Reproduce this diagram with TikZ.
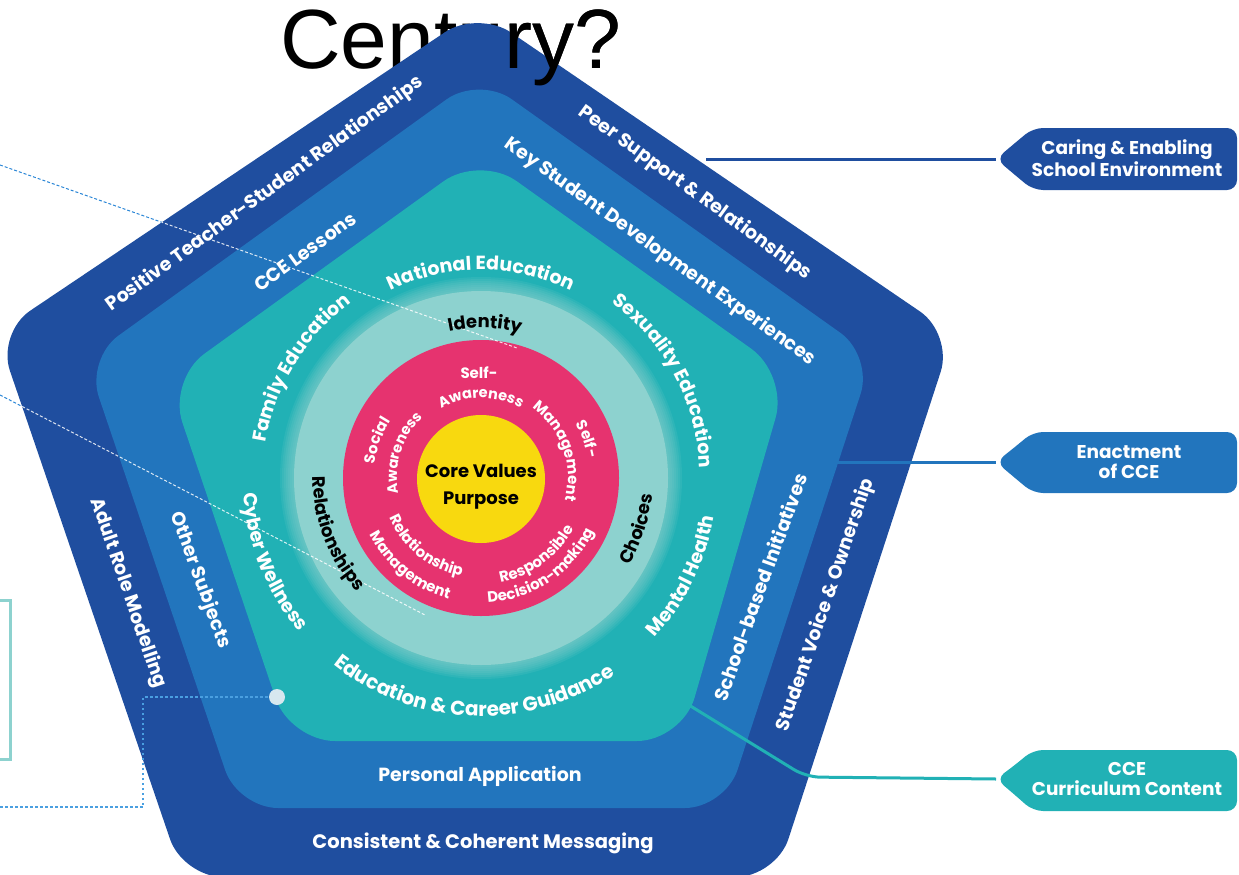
\documentclass[tikz,border=0pt]{standalone}
\usepackage{fontspec}
\setmainfont{Poppins}
\newfontfamily\titlefont{Liberation Sans}
\usetikzlibrary{decorations.text}
\definecolor{dblue}{HTML}{1F4E9F}
\definecolor{mblue}{HTML}{2275BD}
\definecolor{teal}{HTML}{21B1B5}
\definecolor{lteal}{HTML}{8DD2CF}
\definecolor{pinkc}{HTML}{E6336F}
\definecolor{yellowc}{HTML}{F8D90F}
\definecolor{dashblue}{HTML}{2A86D6}
\definecolor{dotblue}{HTML}{4A9FE0}
\definecolor{dotc}{HTML}{D7E7EF}
\newcommand\fs[1]{\fontsize{#1}{#1}\selectfont}
\newcommand\cwtext[5]{\path[decorate,decoration={text along path,text align=center,text={|\color{#1}\bfseries\fs{#2}|#5}}] (481,-478) ++({#4+80}:#3) arc[start angle={#4+80}, end angle={#4-80}, radius=#3];}
\newcommand\ccwtext[5]{\path[decorate,decoration={text along path,text align=center,text={|\color{#1}\bfseries\fs{#2}|#5}}] (481,-478) ++({#4-80}:#3) arc[start angle={#4-80}, end angle={#4+80}, radius=#3];}
\def\outerpath{(480,-877) -- (183,-877) -- (-3,-333) -- (478,-10) -- (953,-334) -- (776,-877) -- cycle}
\def\midpath{(480,-808) -- (238,-808) -- (86,-359) -- (479,-76) -- (873,-356) -- (725,-808) -- cycle}
\def\tealpath{(486,-741) -- (290,-741) -- (168,-380) -- (480,-155) -- (788,-375) -- (682,-741) -- cycle}
\begin{document}
\begin{tikzpicture}[x=1pt,y=1pt,
  lbl/.style={text=white, font=\bfseries\fs{19}, inner sep=0pt},
  tagtext/.style={text=white, font=\bfseries\fs{18.5}, align=center, inner sep=0pt},
  dashline/.style={dashblue, line width=1, dash pattern=on 3pt off 2pt},
  conn/.style={line width=3},
  title/.style={font=\titlefont\fs{84}, anchor=base west, inner sep=0pt}]
\useasboundingbox (0,0) rectangle (1239,-875);
% title behind
\node[title] (title) at (280,-68) {Century?};
% left pointer lines
\coordinate (d1s) at (0,-165); \coordinate (d1e) at (517,-348);
\coordinate (d2s) at (0,-395); \coordinate (d2e) at (425,-615);
\draw[dashline] (d1s) -- (d1e);
\draw[dashline] (d2s) -- (d2e);
\draw[lteal, line width=3] (-5,-600) -- (10,-600) -- (10,-759) -- (-5,-759);
% pentagons
\fill[dblue, rounded corners=40] \outerpath;
\fill[mblue, rounded corners=40] \midpath;
\fill[teal, rounded corners=45] \tealpath;
% circles
\foreach \rr in {201,199,...,189} \fill[lteal, opacity=0.13] (481,-478) circle (\rr);
\fill[lteal] (481,-478) circle (187);
\fill[pinkc] (481,-478) circle (138);
\fill[yellowc] (481,-479) circle (64);
% title front part
\node[title] (titlefront) at (280,-68) {\phantom{Centu}ry?};
% white dashes over the pentagon
\begin{scope}
\clip[rounded corners=40] \outerpath;
\draw[white, opacity=0.85, line width=1, dash pattern=on 3pt off 2pt] (d1s) -- (d1e);
\draw[white, opacity=0.85, line width=1, dash pattern=on 3pt off 2pt] (d2s) -- (d2e);
\end{scope}
% callout tags
\fill[dblue, rounded corners=10] (1015,-143) -- (1033,-128) -- (1237,-128) -- (1237,-190) -- (1033,-190) -- (1015,-175) -- (996,-159) -- cycle;
\fill[mblue, rounded corners=10] (1015,-447) -- (1033,-432) -- (1237,-432) -- (1237,-493) -- (1033,-493) -- (1015,-478) -- (996,-462) -- cycle;
\fill[teal, rounded corners=10] (1015,-765) -- (1033,-750) -- (1237,-750) -- (1237,-811) -- (1033,-811) -- (1015,-795) -- (996,-779) -- cycle;
\node[tagtext] (caring) at (1127,-158) {Caring \& Enabling\\[1pt]School Environment};
\node[tagtext] (enact) at (1129,-462) {Enactment\\[1pt]of CCE};
\node[tagtext] (cce) at (1127,-779) {CCE\\[1pt]Curriculum Content};
\coordinate (caringTip) at (996,-159); \coordinate (caringFrom) at (706,-159);
\coordinate (enactTip) at (996,-462); \coordinate (enactFrom) at (834,-462);
\coordinate (cceTip) at (996,-779); \coordinate (cceFrom) at (684,-702);
\draw[conn, dblue] (caringFrom) -- (caringTip);
\draw[conn, mblue] (enactFrom) -- (enactTip);
\draw[conn, teal, rounded corners=14] (cceFrom) -- (806,-777) -- (cceTip);
% dotted pointer
\node[circle, fill=dotc, minimum size=16pt, inner sep=0pt] (dot) at (277,-697) {};
\coordinate (dotStart) at (0,-807);
\draw[dotblue, line width=2.5, dash pattern=on 2.5pt off 2.5pt] (dotStart) -- (143,-807) -- (143,-697) -- (dot);
% outer ring labels
\node[lbl, rotate=36] (ptsr) at (265,-194) {Positive Teacher-Student Relationships};
\node[lbl, rotate=-36] (peer) at (695,-193) {Peer Support \& Relationships};
\node[lbl, rotate=-71] (adult) at (128,-593) {Adult Role Modelling};
\node[lbl, rotate=71] (voice) at (826,-605) {Student Voice \& Ownership};
\node[lbl, font=\bfseries\fs{19.5}] (consistent) at (483,-843) {Consistent \& Coherent Messaging};
% middle ring labels
\node[lbl, rotate=36] (ccel) at (305,-252) {CCE Lessons};
\node[lbl, rotate=-35.5] (key) at (660,-252) {Key Student Development Experiences};
\node[lbl, rotate=-70] (other) at (200,-580) {Other Subjects};
\node[lbl, rotate=70] (school) at (760,-587) {School-based Initiatives};
\node[lbl] (personal) at (480,-776) {Personal Application};
% teal ring labels
\cwtext{white}{19}{208}{90}{National Education}
\cwtext{white}{19}{218}{148.5}{Family Education}
\cwtext{white}{19}{219}{28}{Sexuality Education}
\ccwtext{white}{19}{238}{202}{Cyber Wellness}
\ccwtext{white}{19}{236}{-26}{Mental Health}
\ccwtext{white}{20}{238}{268}{Education {\&} Career Guidance}
% light ring labels
\cwtext{black}{18}{150}{88.5}{Identity}
\ccwtext{black}{18}{168}{201}{Relationships}
\ccwtext{black}{18}{172}{-18}{Choices}
% pink ring labels
\node[lbl, font=\bfseries\fs{15}] (selfa) at (479,-373) {Self-};
\cwtext{white}{14.5}{80}{90}{Awareness}
\cwtext{white}{15}{107}{160}{Social}
\cwtext{white}{14.5}{84}{162}{Awareness}
\cwtext{white}{15}{109}{20}{Self-}
\cwtext{white}{15}{87}{19.5}{Management}
\ccwtext{white}{15}{100}{231}{Relationship}
\ccwtext{white}{15}{125}{231}{Management}
\ccwtext{white}{15}{106}{-54}{Responsible}
\ccwtext{white}{15}{125}{-56}{Decision-making}
% centre
\node[font=\bfseries\fs{18}, align=center, inner sep=0pt] (core) at (481,-487) {Core Values\\[9pt]Purpose};
\end{tikzpicture}
\end{document}
